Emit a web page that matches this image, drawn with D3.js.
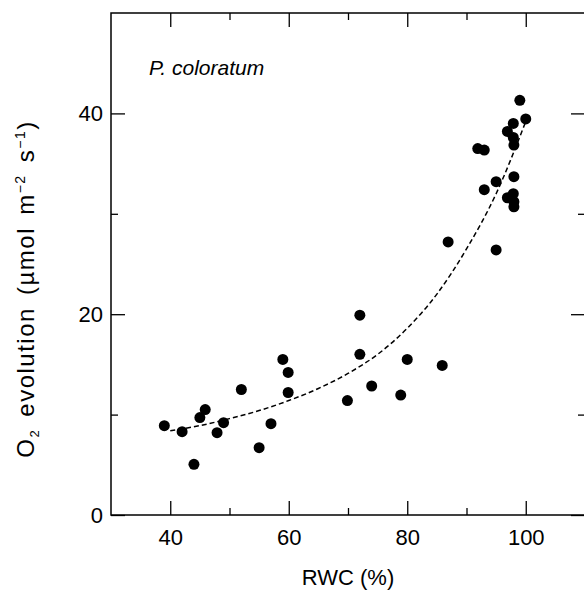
<!DOCTYPE html>
<meta charset="utf-8">
<style>
body { margin: 0; background: #fff; }
svg text { font-family: "Liberation Sans", Arial, Helvetica, sans-serif; fill: #000; }
.frame { fill: none; stroke: #000; stroke-width: 1.5; }
.tick line { stroke: #000; stroke-width: 1.3; }
</style>
<svg width="584" height="591"></svg>
<script src="https://cdnjs.cloudflare.com/ajax/libs/d3/7.8.5/d3.min.js"></script>
<script>
"use strict";

// measured points, RWC (%) vs O2 evolution
var rwc = [39.0, 42.0, 44.0, 45.0, 45.9, 47.9, 49.0, 52.0, 55.0, 57.0,
           59.0, 59.9, 59.9, 69.9, 72.0, 72.0, 74.0, 78.9, 80.0, 85.9,
           86.9, 91.9, 93.0, 93.0, 95.0, 95.0, 96.9, 96.9, 97.9, 97.9,
           98.0, 98.0, 97.9, 98.0, 98.0, 99.0, 100.0];
var o2 = [8.9, 8.3, 5.05, 9.7, 10.5, 8.2, 9.2, 12.5, 6.7, 9.1,
          15.5, 14.2, 12.2, 11.4, 19.9, 16.0, 12.85, 11.95, 15.5, 14.9,
          27.2, 36.5, 36.35, 32.4, 33.2, 26.4, 38.2, 31.6, 39.0, 37.6,
          36.85, 33.7, 32.0, 31.2, 30.7, 41.3, 39.45];

// dashed fit line
var fitRwc = [40, 45, 50, 55, 60, 65, 70, 75, 80, 85, 90, 95, 100];
var fitO2 = [8.4, 8.9, 9.6, 10.4, 11.4, 12.6, 14.1, 16.0, 18.6, 22.0, 26.5, 32.0, 39.2];

var xMajor = [40, 60, 80, 100];
var xMinor = [50, 70, 90];
var yMajor = [0, 20, 40];
var yMinor = [10, 30];

var svg = d3.select("svg");

var pLeft = 111, pRight = 585, pTop = 13, pBottom = 515;

var x = d3.scaleLinear().domain([30, 110]).range([pLeft, pRight]);
var y = d3.scaleLinear().domain([0, 50]).range([pBottom, pTop]);

function axisStyle(g) {
  g.select(".domain").remove();
  g.selectAll("text").style("font-size", "22px");
}

// bottom
svg.append("g").attr("transform", "translate(0," + pBottom + ")")
  .call(d3.axisBottom(x).tickValues(xMajor).tickSize(-14).tickPadding(14).tickSizeOuter(0))
  .call(axisStyle);
svg.append("g").attr("transform", "translate(0," + pBottom + ")")
  .call(d3.axisBottom(x).tickValues(xMinor).tickSize(-7).tickFormat("").tickSizeOuter(0))
  .call(axisStyle);
// top
svg.append("g").attr("transform", "translate(0," + pTop + ")")
  .call(d3.axisTop(x).tickValues(xMajor).tickSize(-14).tickFormat("").tickSizeOuter(0))
  .call(axisStyle);
svg.append("g").attr("transform", "translate(0," + pTop + ")")
  .call(d3.axisTop(x).tickValues(xMinor).tickSize(-7).tickFormat("").tickSizeOuter(0))
  .call(axisStyle);
// left
svg.append("g").attr("transform", "translate(" + pLeft + ",0)")
  .call(d3.axisLeft(y).tickValues(yMajor).tickSize(-14).tickPadding(8).tickSizeOuter(0))
  .call(axisStyle);
svg.append("g").attr("transform", "translate(" + pLeft + ",0)")
  .call(d3.axisLeft(y).tickValues(yMinor).tickSize(-7).tickFormat("").tickSizeOuter(0))
  .call(axisStyle);
// right
svg.append("g").attr("transform", "translate(" + pRight + ",0)")
  .call(d3.axisRight(y).tickValues(yMajor).tickSize(-14).tickFormat("").tickSizeOuter(0))
  .call(axisStyle);
svg.append("g").attr("transform", "translate(" + pRight + ",0)")
  .call(d3.axisRight(y).tickValues(yMinor).tickSize(-7).tickFormat("").tickSizeOuter(0))
  .call(axisStyle);

svg.append("rect").attr("class", "frame")
  .attr("x", pLeft).attr("y", pTop)
  .attr("width", pRight - pLeft).attr("height", pBottom - pTop);

// fit line
var line = d3.line()
  .x(function(d, i) { return x(fitRwc[i]); })
  .y(function(d, i) { return y(fitO2[i]); })
  .curve(d3.curveMonotoneX);

svg.append("path")
  .attr("d", line(fitRwc))
  .attr("fill", "none")
  .attr("stroke", "#000")
  .attr("stroke-width", 1.5)
  .attr("stroke-dasharray", "5,3");

// points
svg.append("g").selectAll("circle")
  .data(rwc)
  .enter().append("circle")
    .attr("cx", function(d) { return x(d); })
    .attr("cy", function(d, i) { return y(o2[i]); })
    .attr("r", 5.5)
    .attr("fill", "#000");

// labels
svg.append("text")
  .attr("x", 149).attr("y", 75)
  .style("font-size", "21px").style("font-style", "italic")
  .text("P. coloratum");

svg.append("text")
  .attr("x", (pLeft + pRight) / 2).attr("y", 585)
  .attr("text-anchor", "middle")
  .style("font-size", "22px")
  .text("RWC (%)");

var yt = svg.append("text")
  .attr("transform", "translate(34,289) rotate(-90)")
  .attr("text-anchor", "middle")
  .style("font-size", "24px")
  .style("letter-spacing", "1.5px")
  .style("word-spacing", "4px");
yt.append("tspan").text("O");
yt.append("tspan").attr("dy", 5).style("font-size", "13px").text("2");
yt.append("tspan").attr("dy", -5).text(" evolution (µmol m");
yt.append("tspan").attr("dy", -9).style("font-size", "14px").text("\u22122");
yt.append("tspan").attr("dy", 9).text(" s");
yt.append("tspan").attr("dy", -9).style("font-size", "14px").text("\u22121");
yt.append("tspan").attr("dy", 9).text(")");
</script>
